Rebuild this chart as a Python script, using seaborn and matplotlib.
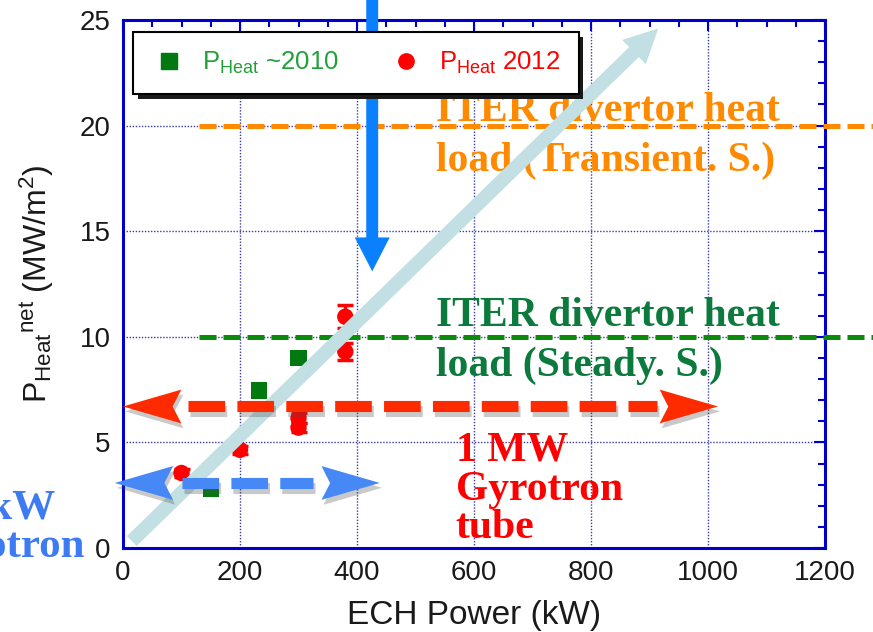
import matplotlib
matplotlib.use("Agg")
import matplotlib.pyplot as plt
import matplotlib.patheffects as pe
from matplotlib.lines import Line2D
from matplotlib.path import Path
from matplotlib.ticker import MultipleLocator
import pandas as pd
import seaborn as sns

# Net heat flux measurements vs. ECH power
power_2010 = [150, 232, 300]
heat_2010 = [2.8, 7.45, 9.0]
power_2012 = [100, 200, 300, 300, 380, 380]
heat_2012 = [3.55, 4.65, 6.15, 5.7, 10.95, 9.3]
err_2012 = [0.2, 0.2, 0.25, 0.2, 0.55, 0.4]

series_names = ["~2010", "2012"]
legend_labels = [r"P$_{Heat}$ ~2010", r"P$_{Heat}$ 2012"]
x_ticks = [0, 200, 400, 600, 800, 1000, 1200]
y_ticks = [0, 5, 10, 15, 20, 25]

# ITER divertor heat-load references (MW/m^2)
iter_transient = 20
iter_steady = 10
iter_span = [130, 1290]

# Gyrotron power ranges (kW) drawn as double arrows
gyro_1mw_range = [0, 1017]
gyro_1mw_dashes = [111, 913]
gyro_1mw_level = 6.7
gyro_small_range = [-14, 439]
gyro_small_dashes = [101, 325]
gyro_small_level = 3.08

# Trend arrow and the "current" marker arrow
trend_start = (15, 0.33)
trend_end = (915, 24.6)
now_x = 426
now_from = 27.5
now_to = 13.1

ORANGE = "#FF8A00"
GREEN_LINE = "#0A8C0A"
GREEN_TXT = "#0B7A3C"
GREEN_MK = "#007A10"
GREEN_LEG = "#22A03A"
RED = "#FF0000"
RED_ARROW = "#FF2B00"
BLUE_TXT = "#3D7BF2"
BLUE_ARROW = "#4688F5"
VBLUE = "#0A80FF"
LIGHT = "#C2E0E3"
AXIS_BLUE = "#0000CC"

sns.set_theme(style="white")
plt.rcParams["font.family"] = ["Liberation Sans", "DejaVu Sans"]
plt.rcParams["mathtext.default"] = "regular"
serif = ["Liberation Serif", "DejaVu Serif"]

fig = plt.figure(figsize=(8.73, 6.32), dpi=100)
ax = fig.add_axes([123 / 873, 84 / 632, 702 / 873, 528 / 632])

df = pd.DataFrame({
    "power": power_2010 + power_2012,
    "heat": heat_2010 + heat_2012,
    "series": [series_names[0]] * len(power_2010) + [series_names[1]] * len(power_2012),
})
sns.scatterplot(data=df, x="power", y="heat", hue="series", style="series",
                markers={series_names[0]: "s", series_names[1]: "o"},
                palette={series_names[0]: GREEN_MK, series_names[1]: RED},
                s=140, linewidth=0, legend=False, ax=ax, zorder=3)
ax.errorbar(power_2012, heat_2012, yerr=err_2012, fmt="none", ecolor=RED,
            elinewidth=2.5, capsize=6, capthick=2.5, zorder=3)

ax.set_xlim(x_ticks[0], x_ticks[-1])
ax.set_ylim(y_ticks[0], y_ticks[-1])
ax.set_xticks(x_ticks)
ax.set_yticks(y_ticks)
ax.xaxis.set_minor_locator(MultipleLocator(50))
ax.yaxis.set_minor_locator(MultipleLocator(1))
ax.tick_params(which="both", direction="in", top=True, right=True,
               color=AXIS_BLUE, width=1.5)
ax.tick_params(which="major", length=8, labelsize=20, pad=9, labelcolor="#1a1a1a")
ax.tick_params(which="minor", length=5)
for sp in ax.spines.values():
    sp.set_color(AXIS_BLUE)
    sp.set_linewidth(2.2)
ax.grid(True, which="major", color="#3a3aa8", ls=(0, (1, 1.2)), lw=1.0)
ax.set_axisbelow(True)

ax.set_xlabel("ECH Power (kW)", fontsize=24, labelpad=10, color="#1a1a1a")
ax.set_ylabel(r"P$_{Heat}{}^{net}$ (MW/m$^2$)", fontsize=23, labelpad=17, color="#1a1a1a")

# ITER reference levels
ax.plot(iter_span, [iter_transient] * 2, color=ORANGE, lw=3.6, ls=(0, (3.4, 1.4)),
        dash_capstyle="butt", clip_on=False, zorder=4)
ax.plot(iter_span, [iter_steady] * 2, color=GREEN_LINE, lw=3.6, ls=(0, (3.4, 1.4)),
        dash_capstyle="butt", clip_on=False, zorder=4)

# Annotation blocks; y gives the baseline of the last line
ax.text(535, 17.85, "ITER divertor heat\nload (Transient. S.)", color=ORANGE,
        fontsize=30, fontweight="bold", family=serif, va="baseline", ha="left",
        linespacing=1.4, zorder=5)
ax.text(535, 8.15, "ITER divertor heat\nload (Steady. S.)", color=GREEN_TXT,
        fontsize=30, fontweight="bold", family=serif, va="baseline", ha="left",
        linespacing=1.4, zorder=5)
ax.text(569, 0.45, "1 MW\nGyrotron\ntube", color=RED,
        fontsize=30, fontweight="bold", family=serif, va="baseline", ha="left",
        linespacing=1.03, zorder=5)
ax.text(-116, 1.42, "500 kW", color=BLUE_TXT, fontsize=31, fontweight="bold",
        family=serif, va="baseline", ha="right", zorder=5)
ax.text(-65, -0.43, "Gyrotron", color=BLUE_TXT, fontsize=31, fontweight="bold",
        family=serif, va="baseline", ha="right", zorder=5)

# Trend arrow
ax.annotate("", xy=trend_end, xytext=trend_start,
            arrowprops=dict(arrowstyle="simple,head_length=1.22,head_width=1.22,tail_width=0.5",
                            mutation_scale=20, color=LIGHT, lw=0, shrinkA=0, shrinkB=0),
            annotation_clip=False, zorder=5)


def head_marker(direction):
    s = 1 if direction > 0 else -1
    verts = [(0, 0), (-s * 1.0, 0.29), (-s * 0.85, 0), (-s * 1.0, -0.29), (0, 0)]
    codes = [Path.MOVETO, Path.LINETO, Path.LINETO, Path.LINETO, Path.CLOSEPOLY]
    return Path(verts, codes)


def range_arrow(span, dashes, y, color):
    line_fx = [pe.SimpleLineShadow(offset=(1.5, -3.5), shadow_color="0.3", alpha=0.3), pe.Normal()]
    patch_fx = [pe.SimplePatchShadow(offset=(1.5, -3.5), shadow_rgbFace="0.3", alpha=0.3), pe.Normal()]
    ax.plot(dashes, [y, y], color=color, lw=8, ls=(0, (3.3, 1.1)), dash_capstyle="butt",
            clip_on=False, zorder=6, path_effects=line_fx)
    ax.plot([span[0]], [y], marker=head_marker(-1), ms=84, color=color, mec="none",
            ls="none", clip_on=False, zorder=6, path_effects=patch_fx)
    ax.plot([span[1]], [y], marker=head_marker(1), ms=84, color=color, mec="none",
            ls="none", clip_on=False, zorder=6, path_effects=patch_fx)


range_arrow(gyro_1mw_range, gyro_1mw_dashes, gyro_1mw_level, RED_ARROW)
range_arrow(gyro_small_range, gyro_small_dashes, gyro_small_level, BLUE_ARROW)

ax.annotate("", xy=(now_x, now_to), xytext=(now_x, now_from),
            arrowprops=dict(arrowstyle="simple,head_length=1.22,head_width=1.26,tail_width=0.43",
                            mutation_scale=20, color=VBLUE, lw=0, shrinkA=0, shrinkB=0),
            annotation_clip=False, zorder=7)

handles = [Line2D([], [], marker="s", color=GREEN_MK, ls="none", ms=11),
           Line2D([], [], marker="o", color=RED, ls="none", ms=11)]
leg = ax.legend(handles, legend_labels, loc="upper left", bbox_to_anchor=(0.01425, 0.9773),
                ncol=2, fontsize=18.5, frameon=True, fancybox=False, edgecolor="black",
                framealpha=1, borderaxespad=0, handlelength=1.4, handletextpad=0.6,
                columnspacing=1.9, borderpad=0.7)
for t, c in zip(leg.get_texts(), [GREEN_LEG, RED]):
    t.set_color(c)
leg.get_frame().set_linewidth(1.5)
leg.get_frame().set_path_effects([pe.SimplePatchShadow(offset=(3.5, -3.5), shadow_rgbFace="k", alpha=1),
                                  pe.Normal()])
leg.set_zorder(10)

fig.savefig("out.png", dpi=100)
